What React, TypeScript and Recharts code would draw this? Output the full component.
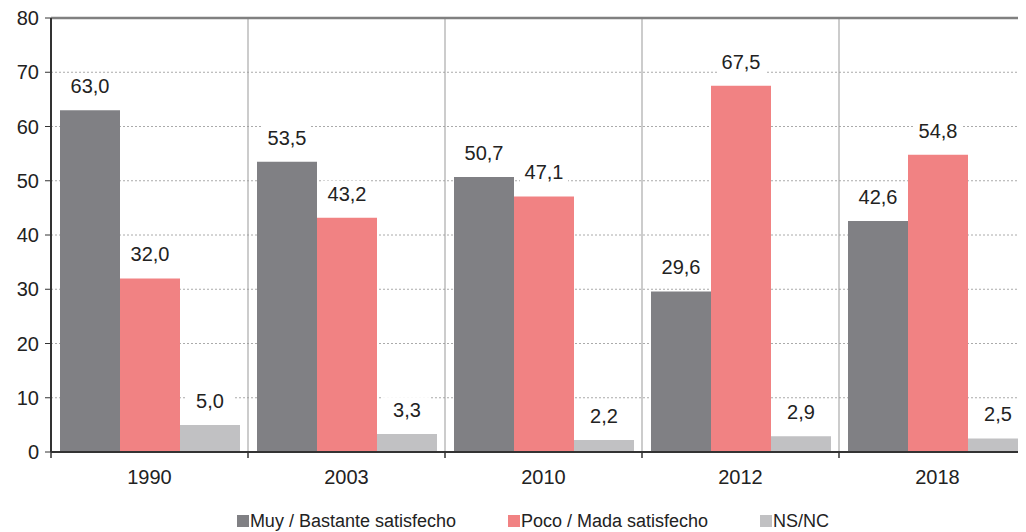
import { BarChart, Bar, XAxis, YAxis, CartesianGrid, Legend, LabelList, ReferenceLine } from "recharts"

const years = ["1990", "2003", "2010", "2012", "2018"]
const muyBastante = [63.0, 53.5, 50.7, 29.6, 42.6]
const pocoNada = [32.0, 43.2, 47.1, 67.5, 54.8]
const nsNc = [5.0, 3.3, 2.2, 2.9, 2.5]
const yTicks = [0, 10, 20, 30, 40, 50, 60, 70, 80]

const series = [
  { key: "muy", name: "Muy / Bastante satisfecho", color: "#808084" },
  { key: "poco", name: "Poco / Mada satisfecho", color: "#f18283" },
  { key: "ns", name: "NS/NC", color: "#c1c1c3" },
]

const data = years.map((year, i) => ({
  year,
  muy: muyBastante[i],
  poco: pocoNada[i],
  ns: nsNc[i],
}))

const FONT = '"Liberation Sans", Arial, sans-serif'
const TEXT = "#222"

const fmt = (v: number) => v.toFixed(1).replace(".", ",")

function ValueLabel(props: any) {
  const { x, y, width, value } = props
  const cx = x + width / 2
  const cy = y - 24
  return (
    <g>
      <rect x={cx - 24} y={cy - 13} width={48} height={26} fill="#fff" />
      <text x={cx} y={cy} textAnchor="middle" dominantBaseline="central" fontSize={20} fontFamily={FONT} fill={TEXT}>
        {fmt(value)}
      </text>
    </g>
  )
}

function YearTick(props: any) {
  const { x, y, payload, index, width } = props
  const half = payload.offset ?? width / years.length / 2
  return (
    <g>
      <line x1={x - half} x2={x - half} y1={y} y2={y + 6} stroke="#333" strokeWidth={1.5} />
      {index === years.length - 1 && (
        <line x1={x + half} x2={x + half} y1={y} y2={y + 6} stroke="#333" strokeWidth={1.5} />
      )}
      <text x={x} y={y + 32} textAnchor="middle" fontSize={20} fontFamily={FONT} fill={TEXT}>
        {payload.value}
      </text>
    </g>
  )
}

function LegendContent() {
  return (
    <div style={{ display: "flex", justifyContent: "center", paddingLeft: 22, fontFamily: FONT, fontSize: 18, color: TEXT, lineHeight: "22px" }}>
      {series.map((s, i) => (
        <div key={s.key} style={{ display: "flex", alignItems: "center", marginRight: i < series.length - 1 ? 52 : 0 }}>
          <span style={{ width: 12, height: 12, background: s.color, marginRight: 1, display: "inline-block" }} />
          <span>{s.name}</span>
        </div>
      ))}
    </div>
  )
}

export default function App() {
  return (
    <div style={{ width: 1018, height: 524, overflow: "hidden" }}>
      <BarChart
        width={1040}
        height={524}
        data={data}
        margin={{ top: 10, right: 12, bottom: 28, left: 0 }}
        barCategoryGap={9}
        barGap={0}
      >
        <CartesianGrid vertical={false} stroke="#aaa" strokeDasharray="2 2" />
        <CartesianGrid
          horizontal={false}
          stroke="#999"
          verticalCoordinatesGenerator={({ offset }: any) =>
            years.slice(1).map((_, i) => offset.left + (offset.width * (i + 1)) / years.length)
          }
        />
        <XAxis
          dataKey="year"
          height={30}
          axisLine={{ stroke: "#333", strokeWidth: 2 }}
          tickLine={false}
          tickSize={0}
          tickMargin={0}
          tick={<YearTick />}
          interval={0}
        />
        <YAxis
          width={43}
          domain={[0, 80]}
          ticks={yTicks}
          interval={0}
          axisLine={{ stroke: "#333", strokeWidth: 2 }}
          tickLine={{ stroke: "#333" }}
          tickSize={6}
          tickMargin={6}
          tick={{ fontSize: 20, fontFamily: FONT, fill: TEXT }}
        />
        <ReferenceLine y={80} stroke="#808080" strokeWidth={2.5} />
        {series.map((s) => (
          <Bar key={s.key} dataKey={s.key} name={s.name} fill={s.color} isAnimationActive={false}>
            <LabelList dataKey={s.key} content={<ValueLabel />} />
          </Bar>
        ))}
        <Legend verticalAlign="bottom" content={<LegendContent />} wrapperStyle={{ bottom: 0, height: 22 }} />
      </BarChart>
    </div>
  )
}
